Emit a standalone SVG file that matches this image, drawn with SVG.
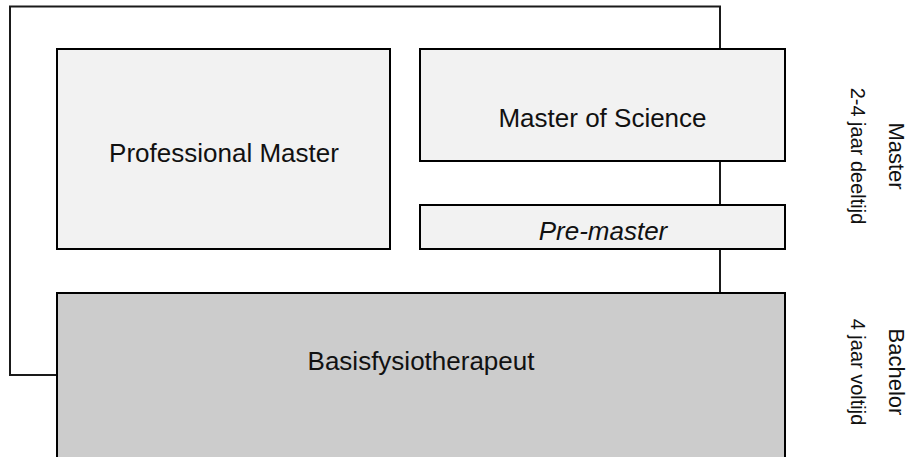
<svg xmlns="http://www.w3.org/2000/svg" width="916" height="457" viewBox="0 0 916 457">
<style>
.box{stroke:#000;stroke-width:2}
.light{fill:#f2f2f2}
.dark{fill:#cccccc}
.conn{fill:none;stroke:#1a1a1a;stroke-width:2}
.lbl{font-family:"Liberation Sans",Arial,Helvetica,sans-serif;fill:#111;text-anchor:middle}
.big{font-size:26px}
.side{font-size:22px}
.sub{font-size:20px}
</style>
<rect width="916" height="457" fill="#fff"/>
<g id="connectors">
<path class="conn" d="M57,375 H10 V6.5 H720 V49"/>
<path class="conn" d="M720,161 V205"/>
<path class="conn" d="M720,249 V293"/>
</g>
<g id="professional-master">
<rect class="box light" x="57" y="49" width="333" height="200"/>
<text class="lbl big" x="224" y="162">Professional Master</text>
</g>
<g id="master-of-science">
<rect class="box light" x="420" y="49" width="365" height="112"/>
<text class="lbl big" x="602.5" y="127">Master of Science</text>
</g>
<g id="pre-master">
<rect class="box light" x="420" y="205" width="365" height="44"/>
<text class="lbl big" x="603" y="240" font-style="italic">Pre-master</text>
</g>
<g id="basisfysiotherapeut">
<rect class="box dark" x="57" y="293" width="728" height="175"/>
<text class="lbl big" x="421" y="370">Basisfysiotherapeut</text>
</g>
<g id="side-labels">
<text class="lbl side" transform="translate(889,156) rotate(90)">Master</text>
<text class="lbl sub" transform="translate(851,156) rotate(90)">2-4 jaar deeltijd</text>
<text class="lbl side" transform="translate(889,372) rotate(90)">Bachelor</text>
<text class="lbl sub" transform="translate(851,372) rotate(90)">4 jaar voltijd</text>
</g>
</svg>
